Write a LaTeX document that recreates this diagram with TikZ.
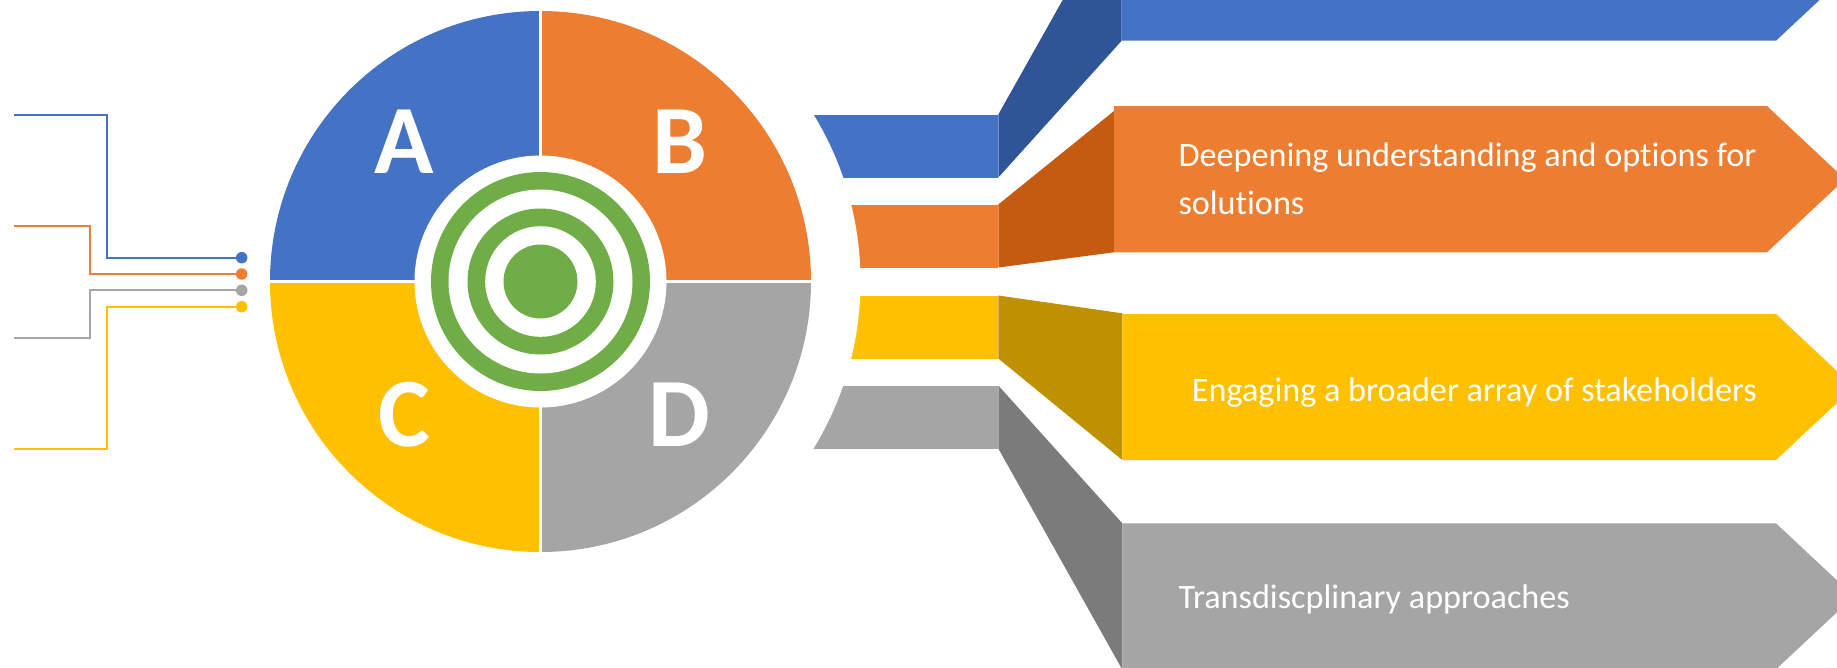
\documentclass[tikz,border=0pt]{standalone}
\usepackage{fontspec}
\setmainfont{Carlito}[Ligatures=NoCommon]
\definecolor{cA}{HTML}{4472C4}
\definecolor{cB}{HTML}{ED7D31}
\definecolor{cC}{HTML}{FFC000}
\definecolor{cD}{HTML}{A5A5A5}
\definecolor{cG}{HTML}{70AD47}
\definecolor{dA}{HTML}{2F5597}
\definecolor{dB}{HTML}{C55A11}
\definecolor{dC}{HTML}{BF9000}
\definecolor{dD}{HTML}{7B7B7B}
\begin{document}
\begin{tikzpicture}[x=1pt,y=1pt,yscale=-1,
  letter/.style={font=\fontsize{98}{98}\selectfont\bfseries, text=white, anchor=base, inner sep=0pt},
  lbl/.style={font=\fontsize{34.2}{47.6}\selectfont, text=white, anchor=base west, inner sep=0pt, align=left},
  wire/.style={line width=2.3pt},
  dot/.style={circle, inner sep=0pt, minimum size=11.5pt, draw=none}]
\useasboundingbox (0,0) rectangle (1837,667);
\clip (0,0) rectangle (1837,667);
\coordinate (ctr) at (540.5,281.5);
% small bands
\fill[cA] (780,114.5) rectangle (998.3,177.5);
\fill[cB] (780,204.5) rectangle (998.3,267.5);
\fill[cC] (780,295.5) rectangle (998.3,358.5);
\fill[cD] (780,385.5) rectangle (998.3,448.5);
\fill[white] (ctr) circle[radius=320];
% dark connectors
\fill[dA] (998.3,114.5) -- (1121.7,-105) -- (1121.7,40.7) -- (998.3,177.5) -- cycle;
\fill[dB] (998.3,204.5) -- (1114,111) -- (1114,252.3) -- (998.3,267.5) -- cycle;
\fill[dC] (998.3,295.5) -- (1122.3,313.3) -- (1122.3,460) -- (998.3,358.5) -- cycle;
\fill[dD] (998.3,385.5) -- (1122.3,523.3) -- (1122.3,669.6) -- (998.3,448.5) -- cycle;
% big arrow boxes
\fill[cA] (1121.7,-105.3) -- (1776,-105.3) -- (1854,-32.3) -- (1776,40.7) -- (1121.7,40.7) -- cycle;
\fill[cB] (1114,106) -- (1767,106) -- (1845,179.15) -- (1767,252.3) -- (1114,252.3) -- cycle;
\fill[cC] (1122.3,314) -- (1776,314) -- (1854,387) -- (1776,460) -- (1122.3,460) -- cycle;
\fill[cD] (1122.3,523.3) -- (1776,523.3) -- (1854,596.3) -- (1776,669.3) -- (1122.3,669.3) -- cycle;
\node[lbl] (tB) at (1178.3,214.3) {Deepening understanding and options for\\solutions};
\node[lbl] (tC) at (1191.7,401.7) {Engaging a broader array of stakeholders};
\node[lbl] (tD) at (1178.3,608.3) {Transdiscplinary approaches};
% circle quadrants
\begin{scope}\clip (0,0) rectangle (ctr); \fill[cA] (ctr) circle[radius=270.5]; \end{scope}
\begin{scope}\clip (540.5,0) rectangle (830,281.5); \fill[cB] (ctr) circle[radius=270.5]; \end{scope}
\begin{scope}\clip (0,281.5) rectangle (540.5,600); \fill[cC] (ctr) circle[radius=270.5]; \end{scope}
\begin{scope}\clip (ctr) rectangle (830,600); \fill[cD] (ctr) circle[radius=270.5]; \end{scope}
\draw[white, line width=3.6pt] (540.5,5) -- (540.5,558);
\draw[white, line width=3.6pt] (262,281.5) -- (818,281.5);
% target
\fill[white] (ctr) circle[radius=126];
\fill[cG] (ctr) circle[radius=109.5];
\fill[white] (ctr) circle[radius=92];
\fill[cG] (ctr) circle[radius=73];
\fill[white] (ctr) circle[radius=55.3];
\fill[cG] (ctr) circle[radius=37];
% letters
\node[letter] (lA) at (404.6,173.2) {A};
\node[letter] (lB) at (679.6,173.2) {B};
\node[letter] (lC) at (404.6,446.4) {C};
\node[letter] (lD) at (679.6,446.4) {D};
% left lines
\coordinate (a0) at (14,115);
\coordinate (b0) at (14,226);
\coordinate (c0) at (14,449.3);
\coordinate (d0) at (14,337.7);
\coordinate (pa) at (241.7,257.7);
\coordinate (pb) at (241.7,274);
\coordinate (pd) at (241.7,290.3);
\coordinate (pc) at (241.7,306.7);
\draw[cA, wire] (a0) -| (106.7,257.7) -- (pa);
\draw[cB, wire] (b0) -| (90,274) -- (pb);
\draw[cD, wire] (d0) -| (90,290.3) -- (pd);
\draw[cC, wire] (c0) -| (106.7,306.7) -- (pc);
\node[dot, fill=cA] (dotA) at (pa) {};
\node[dot, fill=cB] (dotB) at (pb) {};
\node[dot, fill=cD] (dotD) at (pd) {};
\node[dot, fill=cC] (dotC) at (pc) {};
\end{tikzpicture}
\end{document}
